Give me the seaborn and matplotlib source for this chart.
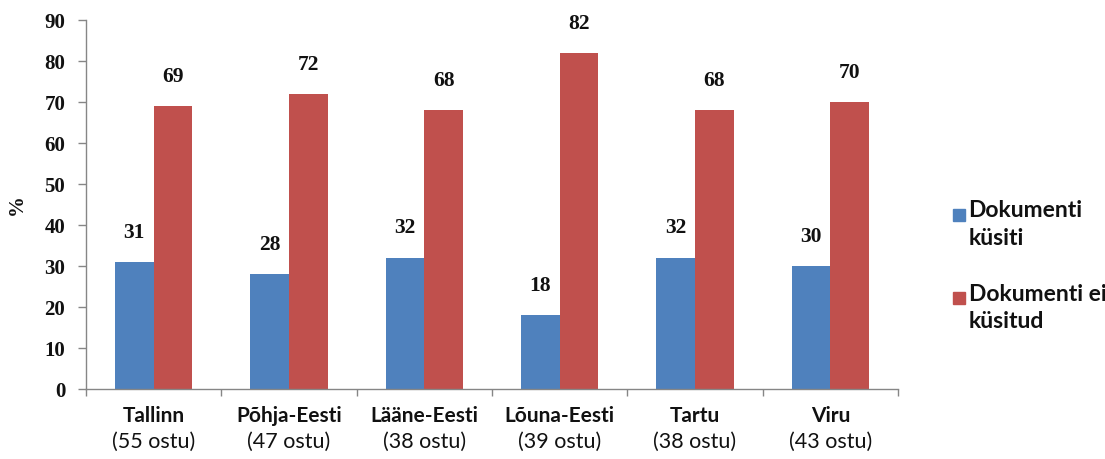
import matplotlib
matplotlib.use("Agg")
import matplotlib.pyplot as plt
import seaborn as sns
import pandas as pd
from matplotlib.patches import Rectangle

regions = ["Tallinn", "Põhja-Eesti", "Lääne-Eesti", "Lõuna-Eesti", "Tartu", "Viru"]
purchases = ["(55 ostu)", "(47 ostu)", "(38 ostu)", "(39 ostu)", "(38 ostu)", "(43 ostu)"]
asked = [31, 28, 32, 18, 32, 30]
not_asked = [69, 72, 68, 82, 68, 70]
series_names = ["Dokumenti\nküsiti", "Dokumenti ei\nküsitud"]
colors = ["#4F81BD", "#C0504D"]

df = pd.DataFrame({
    "region": regions * 2,
    "value": asked + not_asked,
    "series": [series_names[0]] * len(regions) + [series_names[1]] * len(regions),
})

sns.set_theme(style="white")
plt.rcParams["font.family"] = ["Lato", "DejaVu Sans"]
serif = ["Liberation Serif", "DejaVu Serif"]

fig = plt.figure(figsize=(11.05, 4.59), dpi=100)
ax = fig.add_axes([0.0778, 0.1525, 0.7349, 0.8035])

sns.barplot(data=df, x="region", y="value", hue="series", order=regions,
            hue_order=series_names, palette=colors, width=0.57, gap=0,
            saturation=1, linewidth=0, ax=ax, legend=False)

for cont in ax.containers:
    ax.bar_label(cont, padding=14, fontsize=15.5, fontweight="bold",
                 fontfamily=serif, color="#111111")

ax.set_ylim(0, 90)
ax.set_xlim(-0.5, len(regions) - 0.5)
ax.set_yticks(range(0, 91, 10))
ax.set_yticklabels([str(v) for v in range(0, 91, 10)], fontsize=15,
                   fontweight="bold", fontfamily=serif, color="#111111")
ax.set_ylabel("%", fontsize=15, fontweight="bold", fontfamily=serif,
              color="#111111")
ax.yaxis.set_label_coords(-0.073, 0.5)
ax.set_xlabel("")

# category names on the first line, purchase counts below
ax.set_xticks(range(len(regions)))
ax.set_xticklabels([])
ax.tick_params(axis="x", which="major", length=0)
ax.set_xticks([i - 0.5 for i in range(len(regions) + 1)], minor=True)
ax.tick_params(axis="x", which="minor", length=5, color="#868686", width=1,
               direction="out", bottom=True)
ax.tick_params(axis="y", length=6, color="#868686", width=1, direction="out",
               left=True, pad=9)
xt = ax.get_xaxis_transform()
for i, (name, count) in enumerate(zip(regions, purchases)):
    ax.text(i, -0.045, name, transform=xt, ha="center", va="top",
            fontsize=15, fontweight="bold", color="#111111")
    ax.text(i, -0.115, count, transform=xt, ha="center", va="top",
            fontsize=15.5, color="#111111")

for side in ["top", "right"]:
    ax.spines[side].set_visible(False)
for side in ["left", "bottom"]:
    ax.spines[side].set_color("#868686")
    ax.spines[side].set_linewidth(1)

# legend: square swatch beside a two-line bold label
legend_y = [0.519, 0.337]
for name, col, y in zip(series_names, colors, legend_y):
    fig.patches.append(Rectangle((0.8625, y), 0.0108, 0.026,
                                 transform=fig.transFigure, color=col))
    fig.text(0.8765, y + 0.045, name, ha="left", va="top", fontsize=16.5,
             fontweight="bold", color="#111111", linespacing=1.38)

fig.savefig("out.png", dpi=100, facecolor="white")
